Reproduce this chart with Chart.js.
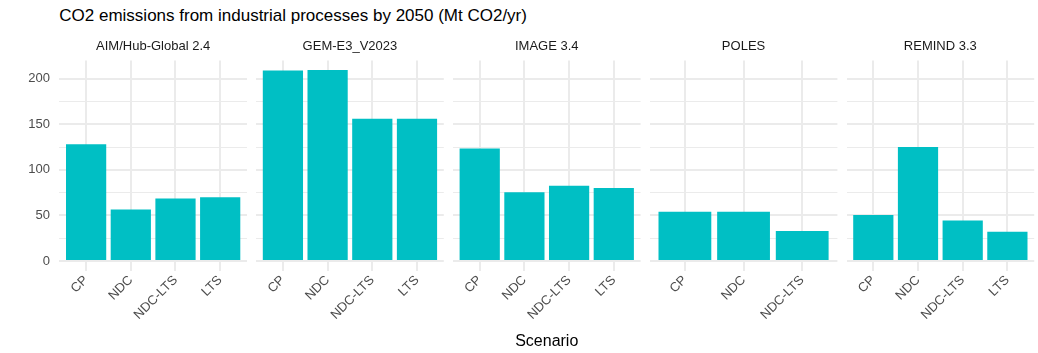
<!DOCTYPE html>
<html>
<head>
<meta charset="utf-8">
<script src="https://cdn.jsdelivr.net/npm/chart.js@4"></script>
<style>
  body { margin: 0; background: #fff; }
  #wrap { position: relative; width: 1038px; height: 353px; }
  #wrap canvas { position: absolute; left: 0; top: 0; }
  #title {
    position: absolute; left: 59.3px; top: 5.5px;
    font: 17px 'Liberation Sans', Arial, sans-serif; color: #000;
    white-space: nowrap; line-height: 20px;
  }
</style>
</head>
<body>
<div id="wrap">
  <div id="title">CO2 emissions from industrial processes by 2050 (Mt CO2/yr)</div>
</div>
<script>
const models = ["AIM/Hub-Global 2.4", "GEM-E3_V2023", "IMAGE 3.4", "POLES", "REMIND 3.3"];
const scenarios = ["CP", "NDC", "NDC-LTS", "LTS"];
const polesScenarios = ["CP", "NDC", "NDC-LTS"];

// Mt CO2/yr in 2050, one array per model
const aimValues = [128, 56.5, 68.5, 70];
const gemValues = [209, 209.5, 156, 156];
const imageValues = [123.5, 75.5, 82.5, 80];
const polesValues = [54, 54, 33];
const remindValues = [50.5, 125, 44.5, 32];

const yTicks = [0, 25, 50, 75, 100, 125, 150, 175, 200];
const yLabels = [0, 50, 100, 150, 200];

const panels = [
  { model: models[0], cats: scenarios, values: aimValues },
  { model: models[1], cats: scenarios, values: gemValues },
  { model: models[2], cats: scenarios, values: imageValues },
  { model: models[3], cats: polesScenarios, values: polesValues },
  { model: models[4], cats: scenarios, values: remindValues },
];

const W = 1038, H = 353;
const PANEL_LEFT = 59.3, PANEL_W = 187.7, PANEL_STEP = 196.8;
const PANEL_BOTTOM = 270.5;
const TEAL = "#00BFC4";
const GRID = "#EBEBEB";
const FONT = "'Liberation Sans', Arial, sans-serif";

// shared y range with 5% padding like ggplot
const yMaxData = Math.max(...panels.flatMap(p => p.values));
const yMin = -yMaxData * 0.05;
const yMax = yMaxData * 1.05;

const wrap = document.getElementById("wrap");

panels.forEach((p, i) => {
  const canvas = document.createElement("canvas");
  canvas.width = W;
  canvas.height = H;
  wrap.appendChild(canvas);

  const left = PANEL_LEFT + i * PANEL_STEP;
  const first = i === 0;

  new Chart(canvas, {
    type: "bar",
    data: {
      datasets: [{
        data: p.values.map((v, k) => ({ x: k + 1, y: v })),
        backgroundColor: TEAL,
        borderWidth: 0,
        barPercentage: 0.9,
        categoryPercentage: 1,
      }],
    },
    options: {
      responsive: false,
      animation: false,
      layout: {
        padding: { left: first ? 0 : left, right: W - left - PANEL_W, top: 0, bottom: 0 },
      },
      plugins: {
        legend: { display: false },
        tooltip: { enabled: false },
        // facet strip label
        title: {
          display: true,
          text: p.model,
          fullSize: false,
          color: "#1A1A1A",
          font: { family: FONT, size: 13, weight: "normal" },
          padding: { top: 38.7, bottom: 6.2 },
        },
      },
      scales: {
        x: {
          type: "linear",
          min: 0.4,
          max: p.cats.length + 0.6,
          offset: false,
          afterBuildTicks: s => { s.ticks = p.cats.map((c, k) => ({ value: k + 1 })); },
          afterFit: s => { s.height = H - PANEL_BOTTOM; },
          border: { display: false },
          grid: { offset: false, color: GRID, lineWidth: 2, drawTicks: false },
          ticks: {
            autoSkip: false,
            minRotation: 45,
            maxRotation: 45,
            padding: 2,
            color: "#4D4D4D",
            font: { family: FONT, size: 13 },
            callback: v => p.cats[v - 1],
          },
          title: {
            display: i === 2,
            text: "Scenario",
            color: "#000",
            font: { family: FONT, size: 16 },
            padding: { top: 0, bottom: 1.4 },
          },
        },
        y: {
          min: yMin,
          max: yMax,
          afterBuildTicks: s => { s.ticks = yTicks.map(v => ({ value: v })); },
          afterFit: s => { s.width = first ? PANEL_LEFT : 0; },
          border: { display: false },
          grid: {
            color: GRID,
            lineWidth: ctx => (ctx.tick && yLabels.includes(ctx.tick.value) ? 2 : 1),
            drawTicks: false,
          },
          ticks: {
            display: first,
            padding: 9.3,
            color: "#4D4D4D",
            font: { family: FONT, size: 13 },
            callback: v => (yLabels.includes(v) ? v : ""),
          },
        },
      },
    },
  });
});
</script>
</body>
</html>
